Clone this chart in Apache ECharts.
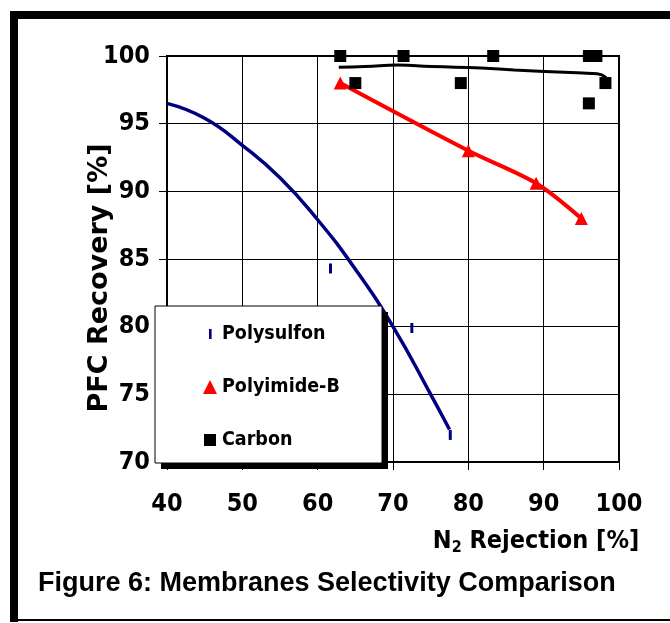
<!DOCTYPE html>
<html>
<head>
<meta charset="utf-8">
<script src="https://cdn.jsdelivr.net/npm/echarts@6/dist/echarts.min.js"></script>
<style>
  html, body { margin: 0; padding: 0; background: #fff; }
  #chart { width: 670px; height: 623px; }
</style>
</head>
<body>
<div id="chart"></div>
<script>
'use strict';

// measured points
var polysulfonPts = [[61.7, 84.3], [72.5, 79.9], [77.6, 72.0]];
var polysulfonTrend = [[40, 96.5], [45, 95.4], [50, 93.4], [55, 91.0], [60, 87.9],
  [65, 84.25], [70, 80.0], [75, 75.0], [77.5, 72.4]];
var polyimidePts = [[63, 98], [80, 93], [89, 90.6], [95, 88]];
var carbonPts = [[63, 100], [71.4, 100], [83.3, 100], [96, 100], [97, 100], [65, 98], [79, 98], [98.2, 98], [96, 96.5]];
var carbonTrend = [[62.8, 99.17], [66.3, 99.22], [70.7, 99.34], [75.1, 99.22], [81.7, 99.12],
  [86.1, 98.97], [92.7, 98.8], [97.1, 98.68], [98.3, 98.4]];
var seriesNames = ['Polysulfon', 'Polyimide-B', 'Carbon'];
var xTicks = [40, 50, 60, 70, 80, 90, 100];
var yTicks = [70, 75, 80, 85, 90, 95, 100];

var cond = 'DejaVu Sans Condensed, DejaVu Sans, sans-serif';
var wide = 'DejaVu Sans, sans-serif';
var navy = '#000080';

var chart = echarts.init(document.getElementById('chart'), null, { renderer: 'canvas' });

var option = {
  backgroundColor: '#fff',
  animation: false,
  title: {
    text: 'Figure 6: Membranes Selectivity Comparison',
    left: 38, top: 570, padding: 0,
    textStyle: { fontFamily: 'Liberation Sans, Arial, sans-serif', fontWeight: 'bold', fontSize: 27, color: '#000' }
  },
  graphic: [
    // outer frame
    { type: 'rect', z: 10, shape: { x: 10, y: 11, width: 8, height: 611 }, style: { fill: '#000' } },
    { type: 'rect', z: 10, shape: { x: 10, y: 11, width: 660, height: 8 }, style: { fill: '#000' } },
    { type: 'rect', z: 10, shape: { x: 10, y: 619, width: 660, height: 2 }, style: { fill: '#000' } },
    // legend box with hard shadow
    { type: 'rect', z: 4, shape: { x: 161, y: 312, width: 227, height: 157 }, style: { fill: '#000' } },
    { type: 'rect', z: 4, shape: { x: 155, y: 306, width: 227, height: 157 }, style: { fill: '#fff', stroke: '#000', lineWidth: 1 } }
  ],
  legend: {
    orient: 'vertical',
    left: 203, top: 324,
    padding: 0,
    z: 5,
    itemGap: 33,
    itemWidth: 14, itemHeight: 14,
    data: [
      { name: seriesNames[0], icon: 'path://M0,0M14,14M6,2h2.6v10h-2.6z', itemStyle: { color: navy, opacity: 1 } },
      { name: seriesNames[1], icon: 'triangle', itemStyle: { color: '#ff0000', opacity: 1 } },
      { name: seriesNames[2], icon: 'path://M0,0M14,14M1,1h12v12h-12z', itemStyle: { color: '#000', opacity: 1 } }
    ],
    textStyle: { fontFamily: cond, fontWeight: 'bold', fontSize: 19.5, color: '#000' }
  },
  grid: { left: 167, right: 51, top: 56, bottom: 161, show: true, borderColor: '#000', borderWidth: 2, backgroundColor: 'transparent' },
  xAxis: {
    type: 'value', min: xTicks[0], max: xTicks[xTicks.length - 1], interval: 10,
    axisLine: { lineStyle: { color: '#000', width: 2 } },
    axisTick: { show: true, length: 8, lineStyle: { color: '#000', width: 1 } },
    axisLabel: { margin: 30, fontFamily: cond, fontWeight: 'bold', fontSize: 25, color: '#000' },
    splitLine: { show: true, lineStyle: { color: '#000', width: 1 } },
    name: '{a|N}{s|2}{a| Rejection [%]}',
    nameLocation: 'middle',
    nameGap: 64,
    nameMoveOverlap: false,
    nameTextStyle: {
      padding: [0, 0, 0, 286],
      rich: {
        a: { fontFamily: cond, fontWeight: 'bold', fontSize: 25, color: '#000', lineHeight: 30 },
        s: { fontFamily: cond, fontWeight: 'bold', fontSize: 16, color: '#000', lineHeight: 16, verticalAlign: 'bottom', padding: [11, 0, 0, 0] }
      }
    }
  },
  yAxis: {
    type: 'value', min: yTicks[0], max: yTicks[yTicks.length - 1], interval: 5,
    axisLine: { lineStyle: { color: '#000', width: 2 } },
    axisTick: { show: true, length: 8, lineStyle: { color: '#000', width: 1 } },
    axisLabel: { margin: 17, fontFamily: cond, fontWeight: 'bold', fontSize: 25, color: '#000' },
    splitLine: { show: true, lineStyle: { color: '#000', width: 1 } },
    name: 'PFC Recovery [%]',
    nameLocation: 'middle',
    nameRotate: 90,
    nameGap: 54,
    nameMoveOverlap: false,
    nameTextStyle: { fontFamily: wide, fontWeight: 'bold', fontSize: 27, color: '#000', padding: [0, 38, 0, 0] }
  },
  series: [
    {
      name: seriesNames[0], type: 'scatter', data: polysulfonPts,
      symbol: 'rect', symbolSize: [3, 10], itemStyle: { color: navy, opacity: 1 }, z: 3
    },
    {
      name: seriesNames[0] + ' trend', type: 'line', data: polysulfonTrend, smooth: true,
      showSymbol: false, symbol: 'none', lineStyle: { color: navy, width: 3.5 }, z: 2
    },
    {
      name: seriesNames[1], type: 'line', data: polyimidePts, smooth: 0.3,
      symbol: 'triangle', symbolSize: 13, showAllSymbol: true,
      itemStyle: { color: '#ff0000', opacity: 1 }, lineStyle: { color: '#ff0000', width: 4 }, z: 3
    },
    {
      name: seriesNames[2], type: 'scatter', data: carbonPts,
      symbol: 'rect', symbolSize: 12, itemStyle: { color: '#000', opacity: 1 }, z: 3
    },
    {
      name: seriesNames[2] + ' trend', type: 'line', data: carbonTrend, smooth: true,
      showSymbol: false, symbol: 'none', lineStyle: { color: '#000', width: 3 }, z: 2
    }
  ]
};

chart.setOption(option);
</script>
</body>
</html>
